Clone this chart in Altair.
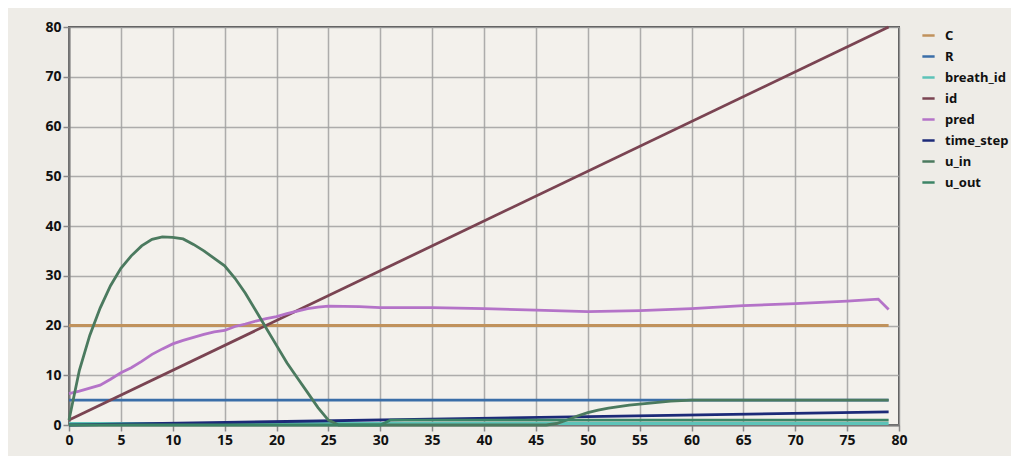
import altair as alt
import pandas as pd

series_names = ["C", "R", "breath_id", "id", "pred", "time_step", "u_in", "u_out"]
series_colors = ["#c0925c", "#3a6ea8", "#5cc3b8", "#7a4452", "#b473c8", "#1c2a78", "#4b7a5f", "#3c8466"]

C_x = [0, 79]
C_y = [20, 20]
R_x = [0, 79]
R_y = [5, 5]
breath_id_x = [0, 79]
breath_id_y = [0.3, 0.3]
id_x = [0, 79]
id_y = [1, 80]
time_step_x = [0, 79]
time_step_y = [0.0, 2.65]
u_out_x = [0, 30, 31, 79]
u_out_y = [0, 0, 1, 1]

pred_x = [0, 1, 2, 3, 4, 5, 6, 7, 8, 9, 10, 11, 12, 13, 14, 15, 16, 17, 18, 19, 20,
          21, 22, 23, 24, 25, 28, 30, 35, 40, 45, 50, 55, 60, 65, 70, 75, 78, 79]
pred_y = [6.3, 6.8, 7.4, 8.0, 9.2, 10.5, 11.5, 12.8, 14.2, 15.3, 16.3, 17.0, 17.6, 18.2,
          18.7, 19.0, 19.8, 20.3, 20.9, 21.4, 21.8, 22.4, 22.9, 23.4, 23.7, 23.9, 23.8,
          23.6, 23.6, 23.4, 23.1, 22.8, 23.0, 23.4, 24.0, 24.4, 24.9, 25.3, 23.2]

u_in_x = [0, 1, 2, 3, 4, 5, 6, 7, 8, 9, 10, 11, 12, 13, 14, 15, 16, 17, 18, 19, 20,
          21, 22, 23, 24, 25, 26, 46, 47, 48, 49, 50, 51, 52, 53, 54, 55, 56, 57, 58,
          59, 60, 79]
u_in_y = [1.0, 11.0, 18.0, 23.5, 28.0, 31.5, 34.0, 36.0, 37.3, 37.8, 37.7, 37.4, 36.3,
          35.0, 33.5, 32.0, 29.5, 26.5, 23.0, 19.5, 16.0, 12.5, 9.5, 6.5, 3.5, 1.0, 0.0,
          0.0, 0.3, 1.0, 1.8, 2.5, 3.0, 3.4, 3.7, 4.0, 4.2, 4.4, 4.6, 4.8, 4.9, 5.0, 5.0]

x_ticks = [0, 5, 10, 15, 20, 25, 30, 35, 40, 45, 50, 55, 60, 65, 70, 75, 80]
y_ticks = [0, 10, 20, 30, 40, 50, 60, 70, 80]

parts = {
    "C": (C_x, C_y), "R": (R_x, R_y), "breath_id": (breath_id_x, breath_id_y),
    "id": (id_x, id_y), "pred": (pred_x, pred_y), "time_step": (time_step_x, time_step_y),
    "u_in": (u_in_x, u_in_y), "u_out": (u_out_x, u_out_y),
}
rows = []
for name, (xs, ys) in parts.items():
    for i, (xv, yv) in enumerate(zip(xs, ys)):
        rows.append({"series": name, "x": xv, "y": yv, "order": i})
df = pd.DataFrame(rows)

FONT = "Noto Sans"

chart = alt.Chart(df).mark_line(strokeWidth=2.8).encode(
    x=alt.X("x:Q", scale=alt.Scale(domain=[0, 80], nice=False),
            axis=alt.Axis(values=x_ticks, title=None, labelFlush=False)),
    y=alt.Y("y:Q", scale=alt.Scale(domain=[0, 80], nice=False),
            axis=alt.Axis(values=y_ticks, title=None)),
    color=alt.Color("series:N",
                    scale=alt.Scale(domain=series_names, range=series_colors),
                    sort=series_names,
                    legend=alt.Legend(title=None, orient="none", legendX=852, legendY=1,
                                      symbolType="stroke", symbolStrokeWidth=2.5,
                                      symbolSize=150, labelFontSize=13, labelFont=FONT,
                                      labelFontWeight="bold", labelColor="#111",
                                      rowPadding=6, labelOffset=9, labelLimit=200)),
    order="order:Q",
    detail="series:N",
).properties(
    width=830, height=398,
    autosize=alt.AutoSizeParams(type="none"),
    padding={"left": 61, "top": 19, "right": 112, "bottom": 31},
    background="#eeece7",
).configure_view(
    fill="#f3f1ec", stroke="#555555", strokeWidth=2,
).configure_axis(
    grid=True, gridColor="#a0a0a0", gridWidth=1.5, gridOpacity=0.85,
    domainColor="#7a7a7a", domainWidth=2,
    tickColor="#8a8a8a", tickSize=6, tickWidth=1.5,
    labelFont=FONT, labelFontSize=14, labelFontWeight="bold", labelColor="#111",
    labelPadding=2,
)

chart.save("out.html", embed_options={"renderer": "svg", "actions": False})
